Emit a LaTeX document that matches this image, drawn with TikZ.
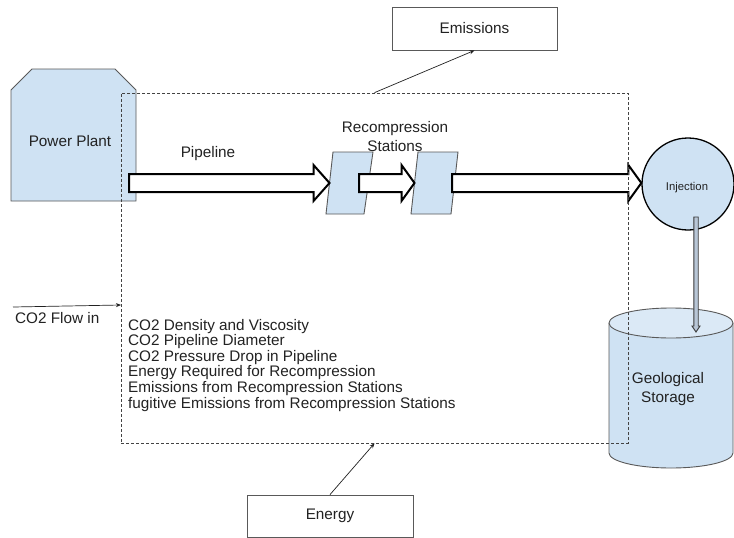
\documentclass[tikz,border=0pt]{standalone}
\usepackage{fontspec}
\setmainfont{Liberation Sans}
\usetikzlibrary{shapes.geometric,arrows.meta,calc}

\definecolor{stationblue}{HTML}{CFE2F3}
\definecolor{edgegray}{HTML}{595959}
\definecolor{inkgray}{HTML}{222222}
\definecolor{pipefill}{HTML}{B8C6D6}

\begin{document}
\begin{tikzpicture}[x=1pt,y=-1pt,
  lbl/.style={font=\fontsize{15.3}{18}\selectfont, text=inkgray, inner sep=0pt, anchor=base},
  lblwest/.style={lbl, anchor=base west},
  shapefill/.style={fill=stationblue, draw=edgegray, line width=0.9pt},
  flowarrow/.style={draw=black, fill=white, line width=2pt, line join=miter},
  thinarrow/.style={draw=inkgray, line width=0.7pt, -{Stealth[length=5pt,width=4pt]}},
  infobox/.style={draw=edgegray, line width=0.8pt, minimum width=165pt, minimum height=43pt,
    inner sep=0pt, font=\fontsize{15.3}{18}\selectfont, text=inkgray},
  boundary/.style={draw=inkgray!85, line width=0.7pt, dash pattern=on 3pt off 2pt},
  % wide hollow arrow between two points; #1 = head length
  blockarrow/.style={to path={let \p1=(\tikztostart), \p2=(\tikztotarget) in
    (\x1,\y1+9pt) -- (\x2-#1,\y1+9pt) -- (\x2-#1,\y1+18pt) -- (\x2,\y1)
    -- (\x2-#1,\y1-18pt) -- (\x2-#1,\y1-9pt) -- (\x1,\y1-9pt) -- cycle}},
  % narrow downward arrow
  dropblock/.style={to path={let \p1=(\tikztostart), \p2=(\tikztotarget) in
    (\x1-2.2pt,\y1) -- (\x1-2.2pt,\y2+6pt) -- (\x1-4pt,\y2+6pt) -- (\x1,\y2)
    -- (\x1+4pt,\y2+6pt) -- (\x1+2.2pt,\y2+6pt) -- (\x1+2.2pt,\y1) -- cycle}}
]
\useasboundingbox[fill=white] (0,0) rectangle (734,538);

% power plant
\draw[shapefill] (11,90) -- (32,69) -- (115,69) -- (136,90) -- (136,201) -- (11,201) -- cycle;
\coordinate (ppout) at (129,183);

% recompression stations
\coordinate (s1tl) at (333,152); \coordinate (s1tr) at (373,152);
\coordinate (s1br) at (364,214); \coordinate (s1bl) at (326,214);
\coordinate (s2tl) at (418,152); \coordinate (s2tr) at (458,152);
\coordinate (s2br) at (451,214); \coordinate (s2bl) at (411,214);
\draw[shapefill] (s1tl) -- (s1tr) -- (s1br) -- (s1bl) -- cycle;
\draw[shapefill] (s2tl) -- (s2tr) -- (s2br) -- (s2bl) -- cycle;
\coordinate (s1in) at ($(s1tl)!0.5!(s1bl)$);
\coordinate (s1out) at (359,183);
\coordinate (s2in) at ($(s2tl)!0.5!(s2bl)$);
\coordinate (s2out) at (452,183);

% injection well
\node[ellipse, shapefill, draw=black, line width=1.3pt, minimum width=92pt, minimum height=92pt,
  inner sep=0pt] (inj) at (688,184) {};

% geological storage (cylinder)
\draw[shapefill] (609,323) -- (609,453) arc[start angle=180, end angle=360, x radius=62pt, y radius=15pt]
  -- (733,323);
\draw[shapefill, fill=stationblue!75!white] (671,323) ellipse[x radius=62pt, y radius=15pt];
\coordinate (injout) at (696,217);
\coordinate (store) at (696,332);

% pipeline flow
\draw[flowarrow] (ppout) to[blockarrow=16pt] (s1in);
\draw[flowarrow] (s1out) to[blockarrow=13pt] (s2in);
\draw[flowarrow] (s2out) to[blockarrow=13pt] (inj.west);
\draw[draw=inkgray!90, fill=pipefill, line width=0.9pt] (injout) to[dropblock] (store);

% system boundary
\node[boundary, minimum width=507pt, minimum height=350pt, inner sep=0pt] (sys) at (374.5,268) {};

% external boxes
\node[infobox] (emis) at (474.5,28.5) {Emissions};
\node[infobox, minimum width=166pt, minimum height=42pt] (energy) at (330,516) {Energy};
\draw[thinarrow] (sys.north) -- (emis.south);
\draw[thinarrow] (energy.north) -- (sys.south);
\coordinate (flowsrc) at (13,307);
\coordinate (inlet) at (121,305);
\draw[thinarrow] (flowsrc) -- (inlet);

% labels
\node[lbl] (pplbl) at (70,146) {Power Plant};
\node[lbl] (pipelbl) at (208,157) {Pipeline};
\node[lbl] (rclbl1) at (395,132) {Recompression};
\node[lbl] (rclbl2) at (395,151) {Stations};
\node[lbl, font=\fontsize{11.3}{13}\selectfont] (injlbl) at (687,190) {Injection};
\node[lbl] (geolbl1) at (668,383) {Geological};
\node[lbl] (geolbl2) at (668,402) {Storage};
\node[lblwest] (flowlbl) at (15,323) {CO2 Flow in};

\foreach \t [count=\i] in {CO2 Density and Viscosity, CO2 Pipeline Diameter,
    CO2 Pressure Drop in Pipeline, Energy Required for Recompression,
    Emissions from Recompression Stations, fugitive Emissions from Recompression Stations}
  \node[lblwest] (param\i) at (128,{330+15.6*(\i-1)}) {\t};
\end{tikzpicture}
\end{document}
